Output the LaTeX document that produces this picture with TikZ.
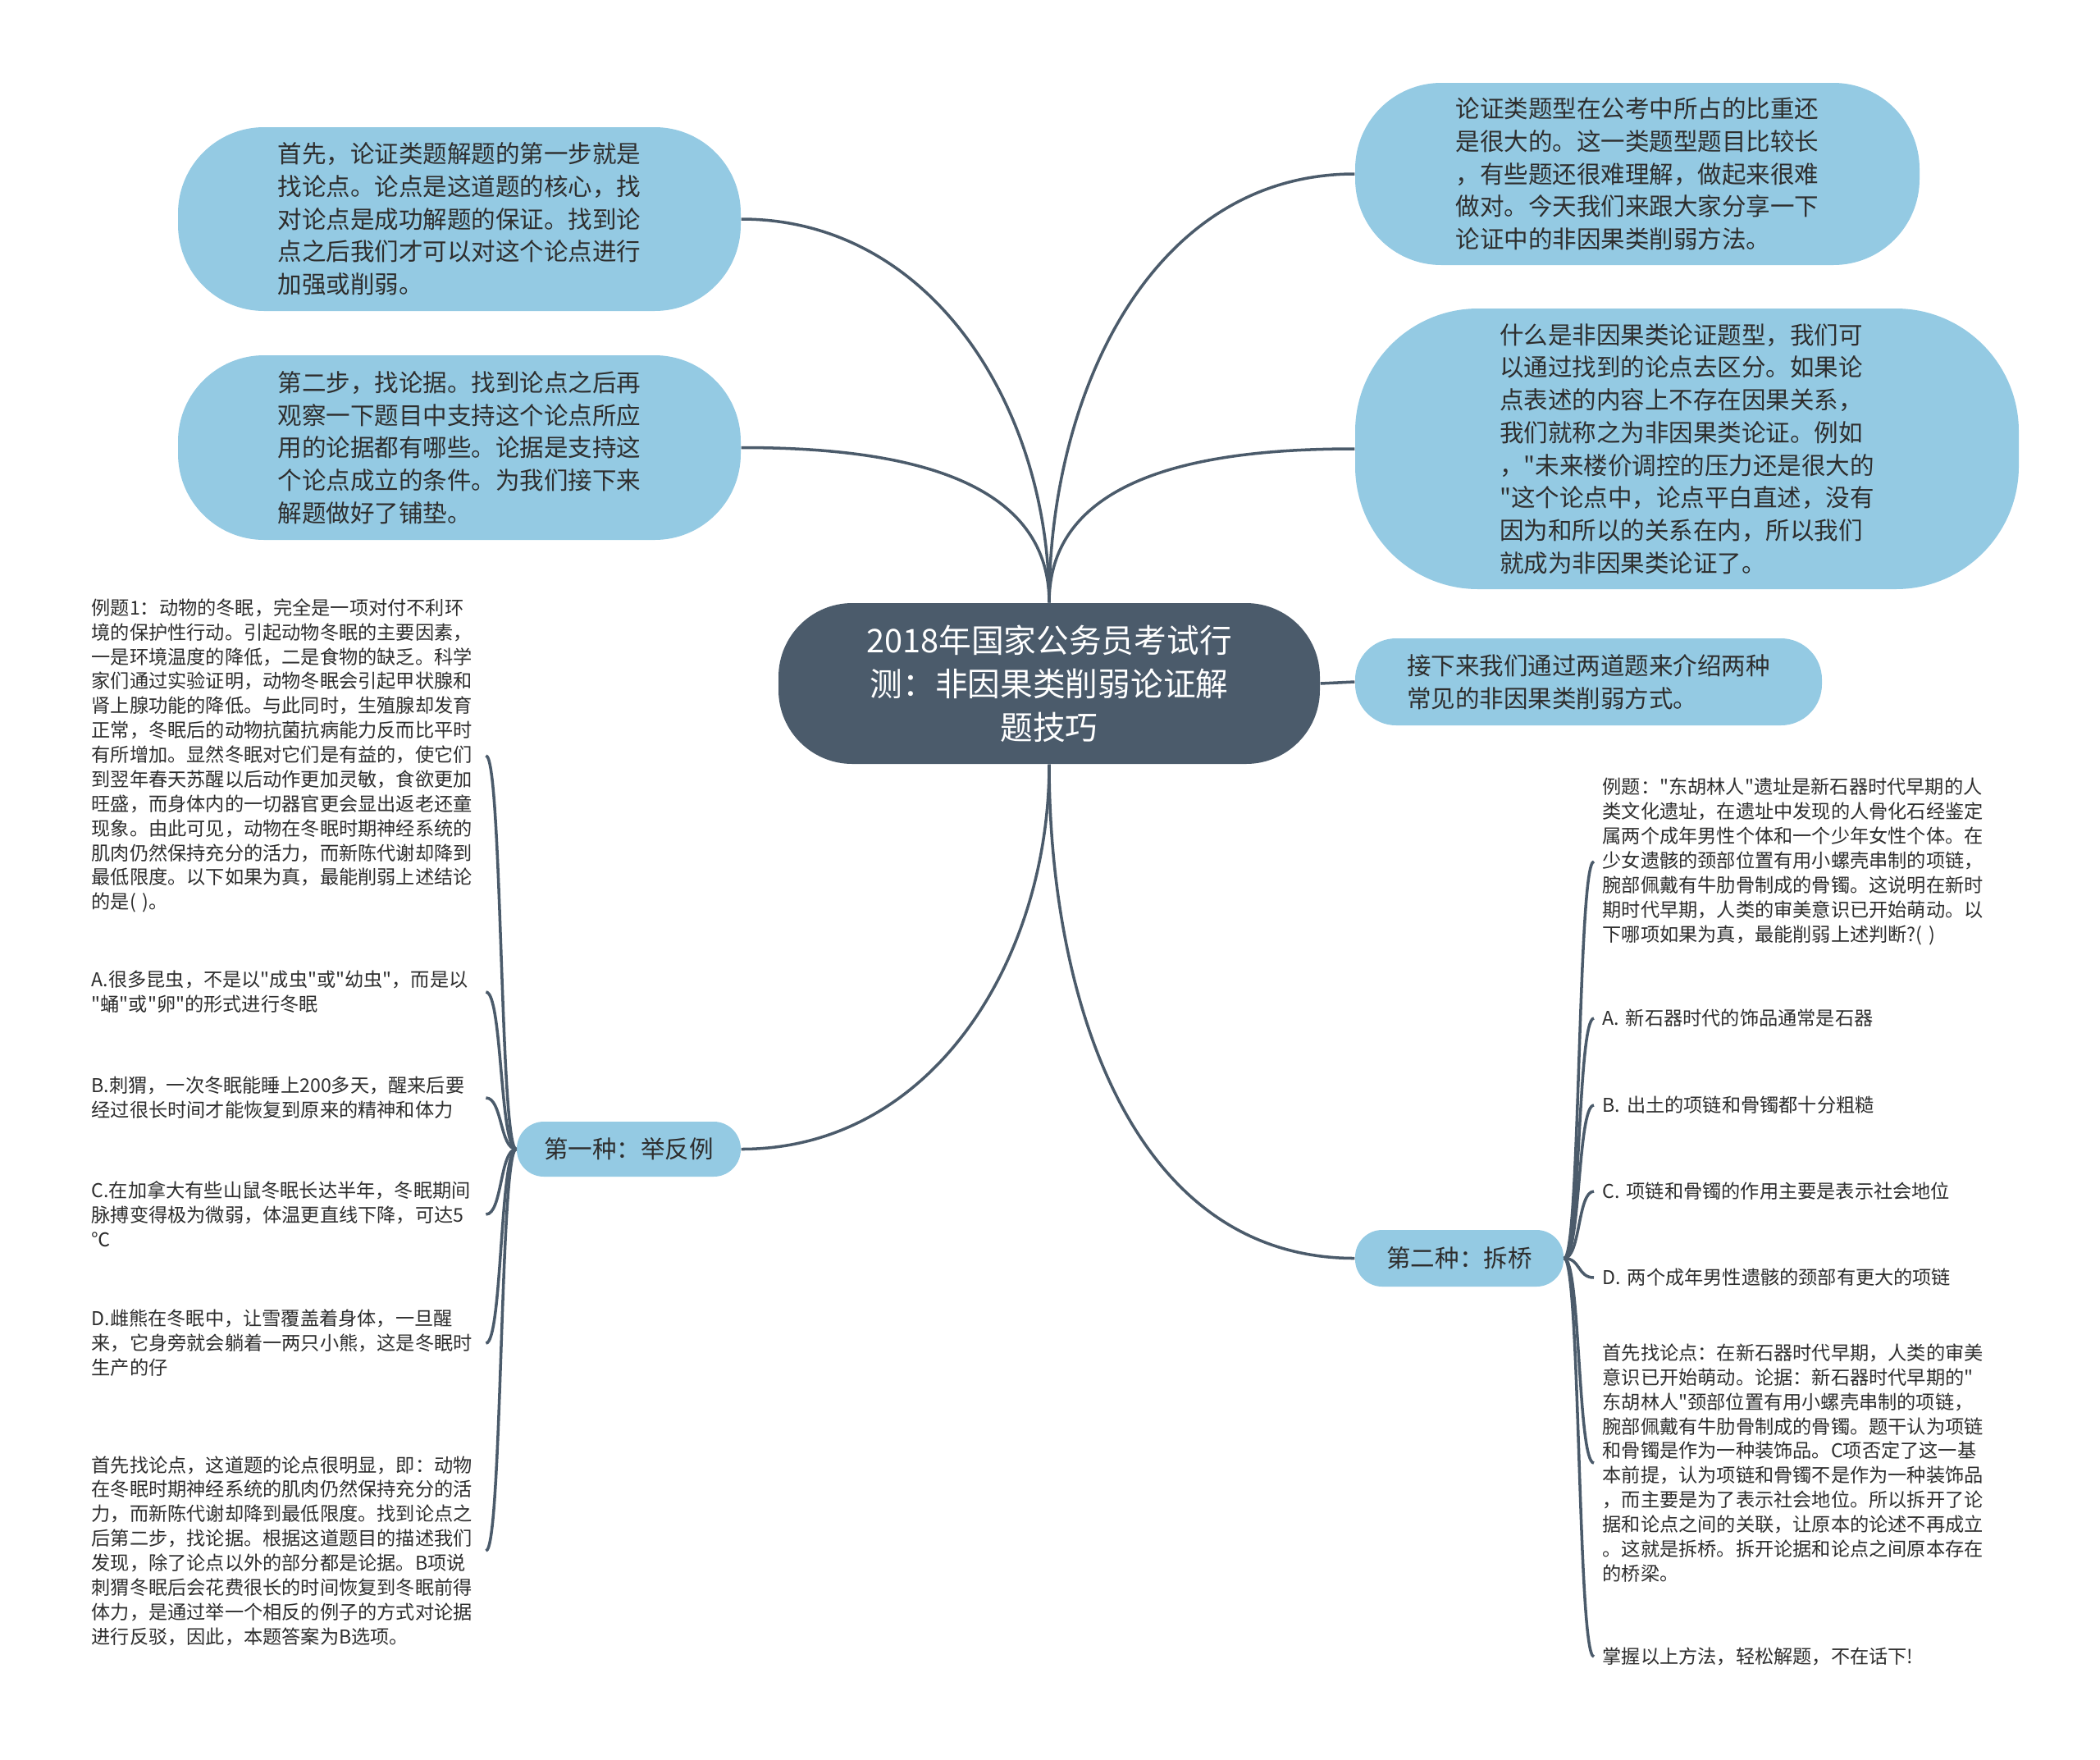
\documentclass[tikz,border=0pt]{standalone}
\usepackage{fontspec}
\setmainfont{Noto Sans CJK SC}[Ligatures=TeXOff]
\usepackage{tikz}
\usetikzlibrary{positioning}
\definecolor{hub}{HTML}{4B5B6B}
\definecolor{sky}{HTML}{94CAE3}
\definecolor{ink}{HTML}{2E2E2E}

\begin{document}
\begin{tikzpicture}[
  wire/.style={draw=hub, line width=1pt},
  centre/.style={fill=hub, text=white, rounded corners=0.9cm, align=center,
                 minimum width=6.6cm, minimum height=1.96cm, inner sep=0pt,
                 font=\fontsize{11.3pt}{15.1pt}\selectfont},
  idea/.style={fill=sky, text=ink, rounded corners=1.05cm, align=left,
               inner sep=0pt, font=\fontsize{8.4pt}{11.3pt}\selectfont},
  kind/.style={idea, rounded corners=0.33cm, align=center},
  note/.style={text=ink, align=left, text width=4.7cm, inner xsep=0.1cm,
               inner ysep=2pt, anchor=west,
               font=\fontsize{6.6pt}{8.5pt}\selectfont},
  twigL/.style={out=180, in=0, distance=0.2cm},
  twigR/.style={out=0, in=180, distance=0.2cm}
]
\path[use as bounding box, fill=white] (0,0) rectangle (25.6,-21.44);

\node[centre] (c) at (12.79,-8.33)
    {2018年国家公务员考试行\\测：非因果类削弱论证解\\题技巧};

\node[idea, minimum width=6.86cm, minimum height=2.24cm] (q1) at (5.60,-2.67)
    {首先，论证类题解题的第一步就是\\找论点。论点是这道题的核心，找\\对论点是成功解题的保证。找到论\\点之后我们才可以对这个论点进行\\加强或削弱。};
\node[idea, minimum width=6.86cm, minimum height=2.25cm] (q2) at (5.60,-5.455)
    {第二步，找论据。找到论点之后再\\观察一下题目中支持这个论点所应\\用的论据都有哪些。论据是支持这\\个论点成立的条件。为我们接下来\\解题做好了铺垫。};
\node[idea, minimum width=6.88cm, minimum height=2.22cm] (q3) at (19.96,-2.12)
    {论证类题型在公考中所占的比重还\\是很大的。这一类题型题目比较长\\，有些题还很难理解，做起来很难\\做对。今天我们来跟大家分享一下\\论证中的非因果类削弱方法。};
\node[idea, rounded corners=1.5cm, minimum width=8.09cm, minimum height=3.42cm] (q4) at (20.565,-5.47)
    {什么是非因果类论证题型，我们可\\以通过找到的论点去区分。如果论\\点表述的内容上不存在因果关系，\\我们就称之为非因果类论证。例如\\，"未来楼价调控的压力还是很大的\\"这个论点中，论点平白直述，没有\\因为和所以的关系在内，所以我们\\就成为非因果类论证了。};
\node[idea, rounded corners=0.5cm, minimum width=5.69cm, minimum height=1.06cm] (q5) at (19.365,-8.31)
    {接下来我们通过两道题来介绍两种\\常见的非因果类削弱方式。};

\node[kind, minimum width=2.73cm, minimum height=0.67cm] (k1) at (7.665,-14.005) {第一种：举反例};
\node[kind, minimum width=2.54cm, minimum height=0.69cm] (k2) at (17.79,-15.335) {第二种：拆桥};

\node[note] (a0) at (1.01,-9.21)
    {例题1：动物的冬眠，完全是一项对付不利环\\境的保护性行动。引起动物冬眠的主要因素，\\一是环境温度的降低，二是食物的缺乏。科学\\家们通过实验证明，动物冬眠会引起甲状腺和\\肾上腺功能的降低。与此同时，生殖腺却发育\\正常，冬眠后的动物抗菌抗病能力反而比平时\\有所增加。显然冬眠对它们是有益的，使它们\\到翌年春天苏醒以后动作更加灵敏，食欲更加\\旺盛，而身体内的一切器官更会显出返老还童\\现象。由此可见，动物在冬眠时期神经系统的\\肌肉仍然保持充分的活力，而新陈代谢却降到\\最低限度。以下如果为真，最能削弱上述结论\\的是( )。};
\node[note] (a1) at (1.01,-12.09)
    {A.很多昆虫，不是以"成虫"或"幼虫"，而是以\\"蛹"或"卵"的形式进行冬眠};
\node[note] (a2) at (1.01,-13.38)
    {B.刺猬，一次冬眠能睡上200多天，醒来后要\\经过很长时间才能恢复到原来的精神和体力};
\node[note] (a3) at (1.01,-14.80)
    {C.在加拿大有些山鼠冬眠长达半年，冬眠期间\\脉搏变得极为微弱，体温更直线下降，可达5\\℃};
\node[note] (a4) at (1.01,-16.37)
    {D.雌熊在冬眠中，让雪覆盖着身体，一旦醒\\来，它身旁就会躺着一两只小熊，这是冬眠时\\生产的仔};
\node[note] (a5) at (1.01,-18.90)
    {首先找论点，这道题的论点很明显，即：动物\\在冬眠时期神经系统的肌肉仍然保持充分的活\\力，而新陈代谢却降到最低限度。找到论点之\\后第二步，找论据。根据这道题目的描述我们\\发现，除了论点以外的部分都是论据。B项说\\刺猬冬眠后会花费很长的时间恢复到冬眠前得\\体力，是通过举一个相反的例子的方式对论据\\进行反驳，因此，本题答案为B选项。};

\node[note] (b0) at (19.43,-10.50)
    {例题："东胡林人"遗址是新石器时代早期的人\\类文化遗址，在遗址中发现的人骨化石经鉴定\\属两个成年男性个体和一个少年女性个体。在\\少女遗骸的颈部位置有用小螺壳串制的项链，\\腕部佩戴有牛肋骨制成的骨镯。这说明在新时\\期时代早期，人类的审美意识已开始萌动。以\\下哪项如果为真，最能削弱上述判断?( )};
\node[note] (b1) at (19.43,-12.41) {A. 新石器时代的饰品通常是石器};
\node[note] (b2) at (19.43,-13.47) {B. 出土的项链和骨镯都十分粗糙};
\node[note] (b3) at (19.43,-14.52) {C. 项链和骨镯的作用主要是表示社会地位};
\node[note] (b4) at (19.43,-15.57) {D. 两个成年男性遗骸的颈部有更大的项链};
\node[note] (b5) at (19.43,-17.83)
    {首先找论点：在新石器时代早期，人类的审美\\意识已开始萌动。论据：新石器时代早期的"\\东胡林人"颈部位置有用小螺壳串制的项链，\\腕部佩戴有牛肋骨制成的骨镯。题干认为项链\\和骨镯是作为一种装饰品。C项否定了这一基\\本前提，认为项链和骨镯不是作为一种装饰品\\，而主要是为了表示社会地位。所以拆开了论\\据和论点之间的关联，让原本的论述不再成立\\。这就是拆桥。拆开论据和论点之间原本存在\\的桥梁。};
\node[note] (b6) at (19.43,-20.19) {掌握以上方法，轻松解题，不在话下!};

\draw[wire] (c.north) to[out=90,in=0] (q1.east);
\draw[wire] (c.north) to[out=90,in=0] (q2.east);
\draw[wire] (c.north) to[out=90,in=180] (q3.west);
\draw[wire] (c.north) to[out=90,in=180] (q4.west);
\draw[wire] (c.east) -- (q5.west);
\draw[wire] (c.south) to[out=-90,in=0] (k1.east);
\draw[wire] (c.south) to[out=-90,in=180] (k2.west);
\foreach \i in {0,...,5} \draw[wire] (k1.west) to[twigL] (a\i.east);
\foreach \i in {0,...,6} \draw[wire] (k2.east) to[twigR] (b\i.west);
\end{tikzpicture}
\end{document}
